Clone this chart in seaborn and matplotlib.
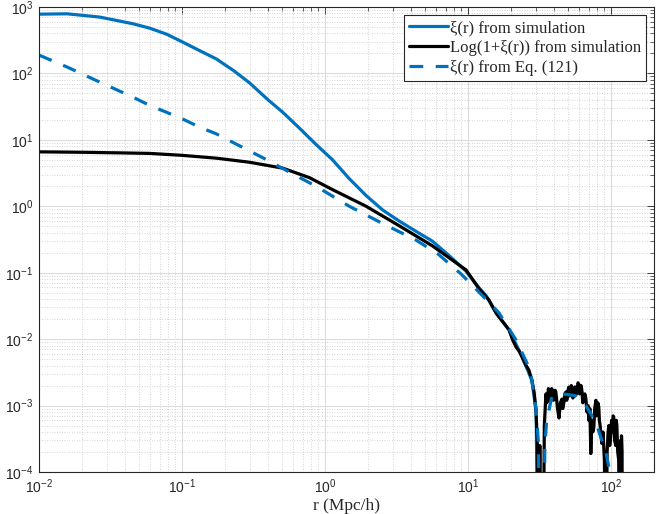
import numpy as np
import pandas as pd
import matplotlib
matplotlib.use("Agg")
import matplotlib.pyplot as plt
import seaborn as sns
from matplotlib.ticker import LogLocator, NullFormatter
from matplotlib.font_manager import FontProperties

# ---------------- data ----------------
r_xi_sim = [0.010, 0.0157, 0.0266, 0.0453, 0.0595, 0.078, 0.10, 0.133, 0.174,
            0.23, 0.297, 0.40, 0.507, 0.663, 0.867, 1.13, 1.48, 1.94, 2.53,
            3.30, 4.33, 5.62, 7.3, 9.7, 11.9, 13.4, 15.7, 19.4, 23.9, 28.0,
            30.0, 31.0]
xi_sim = [780, 790, 705, 560, 480, 390, 300, 220, 165,
          110, 72, 40, 26, 15, 8.5, 5.0, 2.6, 1.45, 0.88,
          0.60, 0.42, 0.30, 0.185, 0.105, 0.06, 0.045, 0.025, 0.0138, 0.0054, 0.0024,
          0.0008, 1e-6]

r_log_sim = [0.010, 0.02, 0.04, 0.0595, 0.10, 0.174, 0.297, 0.507, 0.778, 1.13,
             1.94, 3.30, 5.62, 9.7, 11.9, 14.0, 15.7, 19.4, 20.5, 21.7, 22.8,
             23.9, 25.2, 26.7, 28.0, 29.0, 29.9, 30.5, 31.0, 31.8, 32.5, 33.5,
             34.2, 35.1, 35.6, 36.0, 36.5, 37.0, 37.5, 38.0, 38.5, 39.0, 39.6,
             40.2, 40.7, 41.2, 42.3, 43.3, 44.3, 45.4, 46.0, 46.8, 47.6, 48.4,
             49.0, 49.5, 50.1, 50.8, 51.4, 52.0, 52.8, 53.5, 54.2, 55.0, 55.8,
             56.8, 57.4, 58.0, 58.8, 59.6, 60.3, 61.0, 61.8, 62.6, 63.5, 64.5,
             65.6, 66.7, 68.0, 69.0, 70.0, 71.2, 72.3, 73.5, 74.6, 75.9, 77.0,
             78.4, 79.2, 80.0, 81.0, 82.2, 83.0, 84.0, 86.3, 88.0, 90.0, 92.1,
             94.0, 95.5, 96.6, 98.0, 99.0, 101.0, 102.5, 103.5, 104.5, 106.0,
             108.0, 109.0, 110.0, 111.5, 113.3, 115.0, 116.0, 117.0, 117.8,
             118.5, 119.5, 120.5]
log_sim = [6.6, 6.5, 6.35, 6.25, 5.85, 5.3, 4.6, 3.75, 2.7, 1.78,
           1.0, 0.51, 0.255, 0.11, 0.058, 0.039, 0.0248, 0.0137, 0.0098, 0.0076, 0.0066,
           0.0054, 0.0042, 0.0034, 0.0024, 0.0016, 0.00085, 0.0003, 1e-6, 2.5e-4, 1e-6, 1e-6,
           5e-4, 0.0015, 0.0011, 0.0012, 0.0018, 0.0017, 0.0012, 0.0014, 0.0018, 0.0017, 0.0012,
           0.0013, 0.0017, 0.0016, 0.0009, 0.00065, 0.0011, 0.00125, 0.0009, 0.0011, 0.0015, 0.0016,
           0.0012, 0.0013, 0.0017, 0.0019, 0.0014, 0.0015, 0.0020, 0.0018, 0.0013, 0.0014, 0.0019,
           0.0019, 0.0015, 0.0016, 0.0022, 0.0021, 0.0015, 0.0016, 0.0020, 0.0017, 0.0011, 0.0012,
           0.0015, 0.0013, 0.0008, 0.0010, 0.0006, 0.0009, 0.00019, 0.0006, 0.0004, 0.00047, 0.0009,
           0.0012, 0.0007, 0.0008, 0.0011, 0.00095, 0.0006, 0.0005, 0.00027, 0.0004, 0.00015, 1e-6,
           0.0002, 0.0004, 0.0005, 0.00025, 0.0003, 0.0006, 0.0004, 0.0007, 0.00068, 0.0003,
           0.00025, 0.0006, 0.0005, 0.0002, 0.00015, 1e-6, 0.0002, 0.0003, 1e-6,
           0.00035, 0.0002, 1e-6]

r_eq = [0.010, 0.0157, 0.0266, 0.0453, 0.0595, 0.078, 0.1016, 0.133, 0.174, 0.226,
        0.297, 0.40, 0.56, 0.867, 1.48, 2.53, 4.33, 6.18, 8.95, 12.7, 16.5, 21.7,
        25.8, 28.0, 29.9, 31.0, 32.0, 33.5, 34.5, 35.5, 38.6, 43.0, 48.4, 56.8,
        66.7, 78.4, 86.3, 92.1, 96.6, 99.0]
xi_eq = [189, 125, 74, 44, 33, 26, 20.5, 15.5, 12.3, 9.2,
         6.8, 4.9, 3.3, 2.0, 1.0, 0.55, 0.31, 0.191, 0.0957, 0.0447, 0.0248, 0.0097,
         0.0044, 0.0024, 0.0009, 0.0003, 1e-6, 1e-6, 2.5e-4, 6e-4, 0.00135, 0.0015, 0.00148, 0.0014,
         0.001, 0.00056, 0.0003, 0.0002, 0.00012, 1e-6]

labels = ["ξ(r) from simulation", "Log(1+ξ(r)) from simulation", "ξ(r) from Eq. (121)"]
x_label = "r (Mpc/h)"

blue = "#0072BD"
dark = "#262626"

# ---------------- figure ----------------
sns.set_style("white")
plt.rcParams["font.family"] = ["Liberation Sans", "DejaVu Sans"]
plt.rcParams["mathtext.default"] = "regular"

fig = plt.figure(figsize=(6.71, 5.14), dpi=100)
ax = fig.add_axes([39 / 671, 1 - 472 / 514, 615 / 671, 465 / 514])
ax.set_xscale("log")
ax.set_yscale("log")

df1 = pd.DataFrame({"r": r_xi_sim, "v": xi_sim})
df2 = pd.DataFrame({"r": r_log_sim, "v": log_sim})
df3 = pd.DataFrame({"r": r_eq, "v": xi_eq})

sns.lineplot(data=df1, x="r", y="v", ax=ax, color=blue, lw=2.3, label=labels[0],
             estimator=None, sort=False)
sns.lineplot(data=df2, x="r", y="v", ax=ax, color="black", lw=2.3, label=labels[1],
             estimator=None, sort=False)
sns.lineplot(data=df3, x="r", y="v", ax=ax, color=blue, lw=2.3, label=labels[2],
             estimator=None, sort=False, linestyle=(0, (4.3, 3.9)))

ax.set_xlim(0.01, 200)
ax.set_ylim(1e-4, 1e3)

ax.xaxis.set_major_locator(LogLocator(base=10, numticks=20))
ax.yaxis.set_major_locator(LogLocator(base=10, numticks=20))
ax.xaxis.set_minor_locator(LogLocator(base=10, subs=np.arange(2, 10), numticks=50))
ax.yaxis.set_minor_locator(LogLocator(base=10, subs=np.arange(2, 10), numticks=50))
ax.xaxis.set_minor_formatter(NullFormatter())
ax.yaxis.set_minor_formatter(NullFormatter())

ax.set_axisbelow(True)
ax.grid(which="major", color="#dcdcdc", lw=0.8, ls="-")
ax.grid(which="minor", color="#c8c8c8", lw=0.6, ls=(0, (1, 2)))

ax.tick_params(which="both", direction="in", top=True, right=True, colors=dark,
               labelcolor=dark)
ax.tick_params(which="major", length=5, width=0.6, labelsize=10, pad=4)
ax.tick_params(which="minor", length=3, width=0.5)
for s in ax.spines.values():
    s.set_color(dark)
    s.set_linewidth(0.8)

ax.set_xlabel(x_label, fontsize=12.5, family=["Liberation Serif", "DejaVu Serif"],
              color=dark, labelpad=1)
ax.set_ylabel("")

leg = ax.legend(loc="upper right",
                prop=FontProperties(family=["Liberation Serif", "DejaVu Serif"], size=12),
                frameon=True, fancybox=False, edgecolor=dark, framealpha=1,
                borderaxespad=0.5, handlelength=2.3, handletextpad=0.12,
                labelspacing=0.22, borderpad=0.3)
leg.get_frame().set_linewidth(0.8)

fig.savefig("out.png", dpi=100)
